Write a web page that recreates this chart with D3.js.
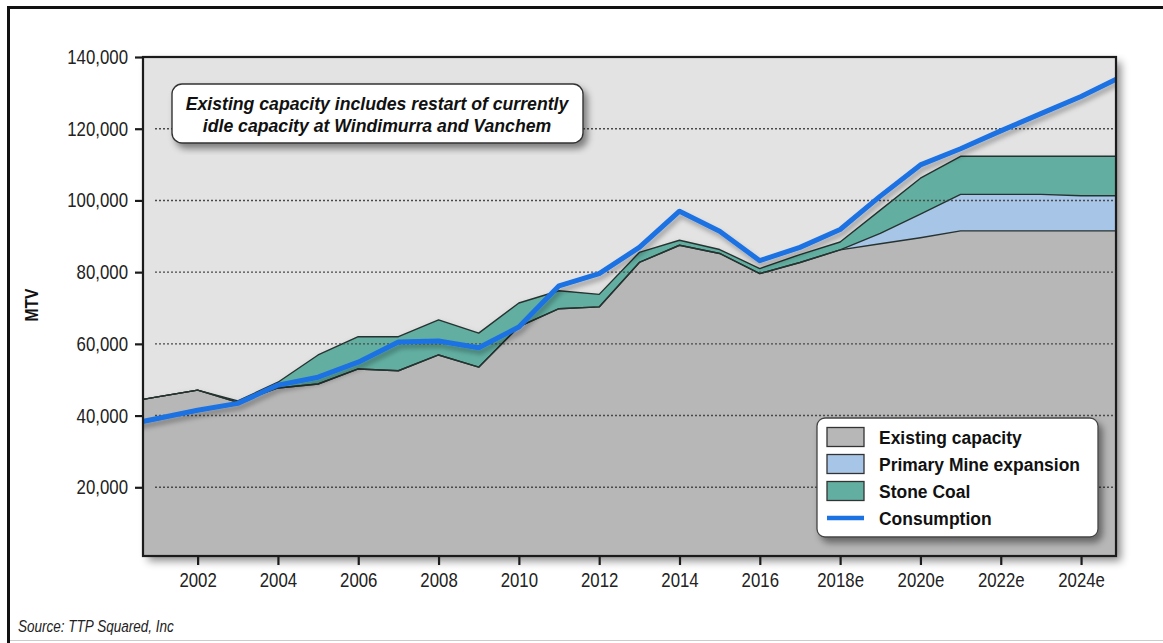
<!DOCTYPE html>
<html><head><meta charset="utf-8">
<script src="https://cdn.jsdelivr.net/npm/d3@7"></script>
<style>body{margin:0;background:#fff;} svg{display:block;}</style>
</head><body>
<svg id="chart" width="1163" height="643"></svg>
<script>
// ---------------- data ----------------
const years = [2000,2001,2002,2003,2004,2005,2006,2007,2008,2009,2010,2011,2012,2013,2014,2015,2016,2017,2018,2019,2020,2021,2022,2023,2024,2025];
const existingCapacity = [43300,45200,47100,43700,47700,48800,53000,52500,56900,53500,64800,69800,70300,82700,87500,85200,79600,82700,86200,87900,89600,91500,91500,91500,91500,91500];
const primaryMineExpansion = [0,0,0,0,0,0,0,0,0,0,0,0,0,0,0,0,0,0,0,2900,6600,10200,10200,10200,9800,9800];
const stoneCoal = [0,0,0,400,1600,8100,9000,9500,9800,9500,6600,5000,3500,2800,1400,1100,1400,2200,2200,6500,10000,10600,10600,10600,11000,11000];
const consumption = [36900,39200,41500,43400,48500,50700,54900,60500,60800,58900,64700,76200,79600,86900,97000,91400,83200,86900,91900,101200,109900,114400,119400,124200,129000,134500];

const xTickYears = [2002,2004,2006,2008,2010,2012,2014,2016,2018,2020,2022,2024];
const xTickLabels = ["2002","2004","2006","2008","2010","2012","2014","2016","2018e","2020e","2022e","2024e"];
const yTickValues = [20000,40000,60000,80000,100000,120000,140000];
const seriesNames = ["Existing capacity","Primary Mine expansion","Stone Coal","Consumption"];
const seriesColors = ["#b7b7b7","#a7c5e7","#62afa2","#1b72e3"];
const annotationLines = ["Existing capacity includes restart of currently","idle capacity at Windimurra and Vanchem"];
const yTitle = "MTV";
const sourceText = "Source: TTP Squared, Inc";

// ---------------- layout ----------------
const SANS = "'Liberation Sans',Arial,sans-serif";
const SQ = 0.82; // horizontal squeeze to mimic a condensed face
const P = {left:143, right:1116, top:57, bottom:556};

const svg = d3.select("#chart");
const defs = svg.append("defs");
function shadow(id, dx, dy, sd, op){
  const f = defs.append("filter").attr("id", id).attr("x","-20%").attr("y","-20%").attr("width","140%").attr("height","140%");
  f.append("feDropShadow").attr("dx",dx).attr("dy",dy).attr("stdDeviation",sd).attr("flood-color","#000").attr("flood-opacity",op);
}
shadow("plotShadow", 5, 5, 4, 0.45);
shadow("boxShadow", 4, 5, 3.5, 0.45);
shadow("lineShadow", 2, 4, 2.5, 0.3);
shadow("areaShadow", 1, 3, 3, 0.25);

// outer frame
svg.append("line").attr("x1",8).attr("x2",1163).attr("y1",7.5).attr("y2",7.5).attr("stroke","#111").attr("stroke-width",3);
svg.append("line").attr("x1",8.5).attr("x2",8.5).attr("y1",6).attr("y2",643).attr("stroke","#111").attr("stroke-width",3);
svg.append("line").attr("x1",10).attr("x2",1163).attr("y1",640.5).attr("y2",640.5).attr("stroke","#ccc").attr("stroke-width",1.2);

const x = d3.scaleLinear().domain([2000.64, 2024.87]).range([P.left, P.right]);
const y = d3.scaleLinear().domain([0, 140000]).range([559, 57]);

// plot background
svg.append("rect").attr("x",P.left).attr("y",P.top).attr("width",P.right-P.left).attr("height",P.bottom-P.top)
  .attr("fill","#e3e3e3").attr("filter","url(#plotShadow)");
defs.append("clipPath").attr("id","plotClip").append("rect")
  .attr("x",P.left).attr("y",P.top).attr("width",P.right-P.left).attr("height",P.bottom-P.top);

const g = svg.append("g").attr("clip-path","url(#plotClip)");

// stacked areas
const rows = years.map((yr,i)=>({year:yr, existing:existingCapacity[i], primary:primaryMineExpansion[i], stone:stoneCoal[i]}));
const stack = d3.stack().keys(["existing","primary","stone"])(rows);
const area = d3.area().x(d=>x(d.data.year)).y0(d=>y(d[0])).y1(d=>y(d[1]));
const topLine = d3.line().x(d=>x(d.data.year)).y(d=>y(d[1]));

const ag = g.append("g").attr("filter","url(#areaShadow)");
stack.forEach((s,i)=>{
  ag.append("path").attr("d",area(s)).attr("fill",seriesColors[i]);
});

// gridlines (dotted)
g.selectAll("line.grid").data(yTickValues.filter(v=>v<140000)).join("line").attr("class","grid")
  .attr("x1",P.left+12).attr("x2",P.right-2).attr("y1",d=>y(d)).attr("y2",d=>y(d))
  .attr("stroke","#4a4a4a").attr("stroke-width",1.4).attr("stroke-dasharray","2,2");

stack.forEach((s,i)=>{
  g.append("path").attr("d",topLine(s)).attr("fill","none").attr("stroke","#263330").attr("stroke-width",1.4).attr("stroke-linejoin","round");
});

// consumption line
const cLine = d3.line().x((d,i)=>x(years[i])).y(d=>y(d));
g.append("path").attr("d",cLine(consumption)).attr("fill","none").attr("stroke",seriesColors[3])
  .attr("stroke-width",5).attr("stroke-linejoin","round").attr("filter","url(#lineShadow)");

// plot border
svg.append("rect").attr("x",P.left).attr("y",P.top).attr("width",P.right-P.left).attr("height",P.bottom-P.top)
  .attr("fill","none").attr("stroke","#1b1b1b").attr("stroke-width",2.2);

// axes
const yAxis = svg.append("g").attr("transform",`translate(${P.left},0)`)
  .call(d3.axisLeft(y).tickValues(yTickValues).tickFormat(d3.format(",")).tickSize(8).tickPadding(7));
const xAxis = svg.append("g").attr("transform",`translate(0,${P.bottom})`)
  .call(d3.axisBottom(x).tickValues(xTickYears).tickFormat((d,i)=>xTickLabels[i]).tickSize(9).tickPadding(7));
[yAxis,xAxis].forEach(a=>{
  a.select(".domain").remove();
  a.selectAll(".tick line").attr("stroke","#1b1b1b").attr("stroke-width",2.2);
  a.selectAll(".tick text").attr("font-family",SANS).attr("font-size",20.5).attr("fill","#222");
});
yAxis.selectAll(".tick text").attr("x",-15/SQ).attr("transform",`scale(${SQ},1)`);
xAxis.selectAll(".tick text").attr("transform",`scale(${SQ},1)`);

// y title
svg.append("text").attr("transform",`translate(31,305) rotate(-90) scale(${SQ},1)`).attr("text-anchor","middle")
  .attr("dy","0.35em").attr("font-family",SANS).attr("font-weight","bold").attr("font-size",19).attr("fill","#111").text(yTitle);

// annotation box
const ann = svg.append("g");
ann.append("rect").attr("x",172).attr("y",84).attr("width",411).attr("height",59).attr("rx",10)
  .attr("fill","#fff").attr("stroke","#333").attr("stroke-width",1.4).attr("filter","url(#boxShadow)");
ann.selectAll("text").data(annotationLines).join("text")
  .attr("x",377/0.93).attr("y",(d,i)=>110+i*22).attr("text-anchor","middle").attr("transform","scale(0.93,1)")
  .attr("font-family",SANS).attr("font-weight","bold").attr("font-style","italic").attr("font-size",19).attr("fill","#111")
  .text(d=>d);

// legend
const lg = svg.append("g");
lg.append("rect").attr("x",817).attr("y",418).attr("width",281).attr("height",119).attr("rx",8)
  .attr("fill","#fff").attr("stroke","#444").attr("stroke-width",1.3).attr("filter","url(#boxShadow)");
seriesNames.forEach((name,i)=>{
  const cy = 437 + i*27;
  if(i<3){
    lg.append("rect").attr("x",827).attr("y",cy-9.5).attr("width",37).attr("height",19)
      .attr("fill",seriesColors[i]).attr("stroke","#333").attr("stroke-width",1.3);
  } else {
    lg.append("line").attr("x1",827).attr("x2",864).attr("y1",cy).attr("y2",cy)
      .attr("stroke",seriesColors[i]).attr("stroke-width",4.5);
  }
  lg.append("text").attr("x",879/0.92).attr("y",cy+7).attr("transform","scale(0.92,1)").attr("font-family",SANS).attr("font-weight","bold")
    .attr("font-size",19).attr("fill","#111").text(name);
});

// source
svg.append("text").attr("x",18/SQ).attr("y",632).attr("transform",`scale(${SQ},1)`).attr("font-family",SANS).attr("font-style","italic")
  .attr("font-size",16.5).attr("fill","#222").text(sourceText);
</script>
</body></html>
